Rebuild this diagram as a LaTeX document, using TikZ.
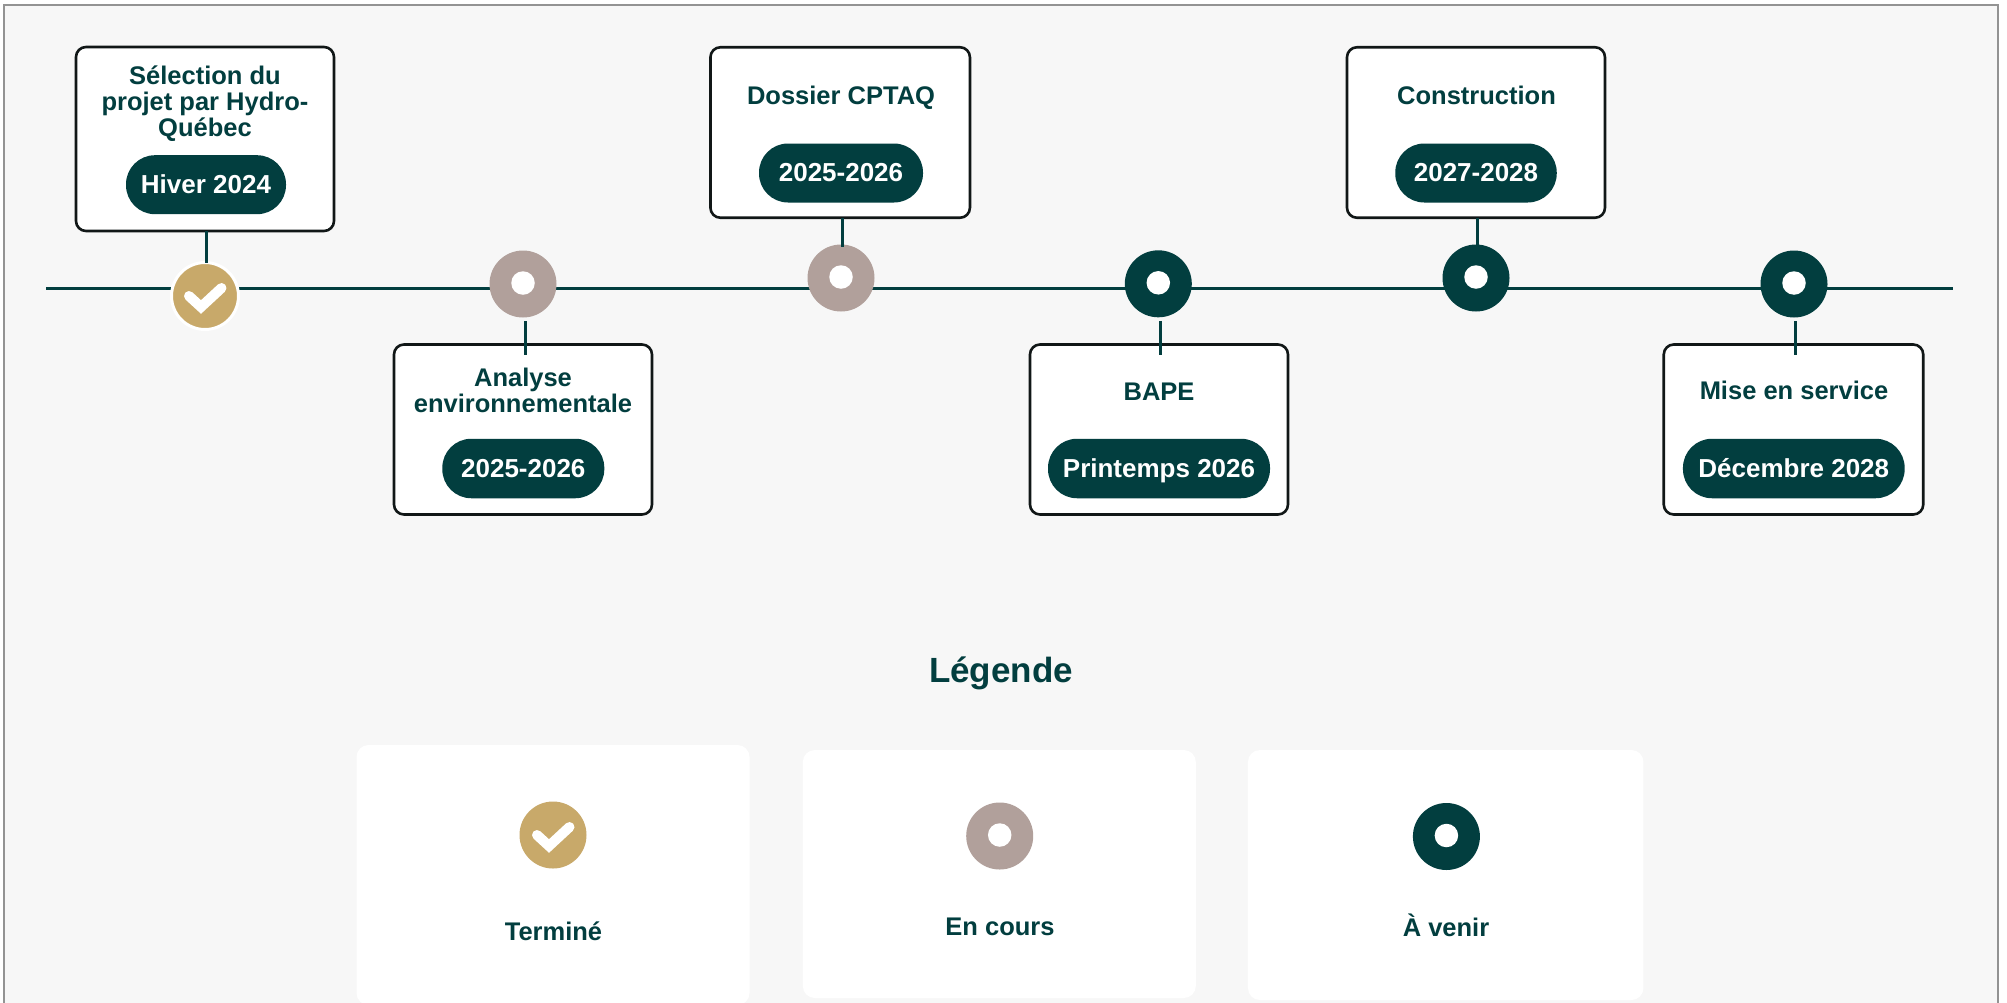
\documentclass[tikz,border=0pt]{standalone}
\usepackage{fontspec}
\setmainfont{Liberation Sans}
\definecolor{teal}{HTML}{023E3F}
\definecolor{gold}{HTML}{C8A96A}
\definecolor{taupe}{HTML}{B1A09B}
\definecolor{pagebg}{HTML}{F7F7F7}
\definecolor{edge}{HTML}{111717}
\tikzset{
  card/.style={draw=edge,line width=2.6pt,fill=white,rounded corners=10pt,inner sep=0pt,outer sep=0pt},
  pill/.style={fill=teal,rounded corners=29pt,inner sep=0pt,outer sep=0pt,text=white,text height=18.6pt,text depth=0pt,font=\fontsize{26}{28}\selectfont\bfseries},
  pillup/.style={pill,text depth=2pt},
  title/.style={text=teal,font=\fontsize{25.5}{26}\selectfont\bfseries,align=center,inner sep=0pt},
  dot/.style={circle,minimum size=67pt,inner sep=0pt,outer sep=0pt},
  hole/.style={circle,fill=white,minimum size=23.5pt,inner sep=0pt},
  conn/.style={draw=teal,line width=3pt},
  tick/.style={draw=white,line width=10pt,line join=miter,line cap=round},
  legcard/.style={fill=white,rounded corners=12pt,inner sep=0pt,outer sep=0pt},
}
\begin{document}
\begin{tikzpicture}[x=1pt,y=-1pt]
\useasboundingbox (0,0) rectangle (2007,1002);
\fill[white] (0,0) rectangle (2007,1002);
\filldraw[draw=gray!85,fill=pagebg,line width=1.2pt] (4,5) rectangle (1998,1012);
% timeline
\coordinate (ls) at (46,288.7);
\coordinate (le) at (1952.7,288.7);
\draw[conn] (ls) -- (le);
% boxes
\node[card,minimum width=258pt,minimum height=184pt] (b1) at (205,139) {};
\node[card,minimum width=258pt,minimum height=170pt] (b2) at (523,429.5) {};
\node[card,minimum width=259.5pt,minimum height=170.5pt] (b3) at (840.2,132.5) {};
\node[card,minimum width=258pt,minimum height=170pt] (b4) at (1159,429.5) {};
\node[card,minimum width=258pt,minimum height=170.5pt] (b5) at (1476,132.5) {};
\node[card,minimum width=259.5pt,minimum height=170pt] (b6) at (1793.5,429.5) {};
% pills
\node[pillup,minimum width=160pt,minimum height=59pt] (p1) at (206,184.7) {Hiver 2024};
\node[pill,minimum width=162pt,minimum height=59.5pt] (p2) at (523.3,468.5) {2025-2026};
\node[pillup,minimum width=164pt,minimum height=59pt] (p3) at (841,173) {2025-2026};
\node[pill,minimum width=222pt,minimum height=59.5pt] (p4) at (1159,468.5) {Printemps 2026};
\node[pillup,minimum width=161.5pt,minimum height=59pt] (p5) at (1476,173) {2027-2028};
\node[pill,minimum width=221.7pt,minimum height=59.5pt] (p6) at (1793.8,468.5) {Décembre 2028};
% titles
\node[title] (t1) at (205,104) {Sélection du\\projet par Hydro-\\Québec};
\node[title] (t2) at (523,390.5) {Analyse\\environnementale};
\node[title] (t3) at (841,97.5) {Dossier CPTAQ};
\node[title] (t4) at (1159,392) {BAPE};
\node[title] (t5) at (1476.5,95) {Construction};
\node[title] (t6) at (1794,390.5) {Mise en service};
% status dots
\node[dot,fill=gold,draw=white,line width=3pt] (c1) at (205,296) {};
\node[dot,fill=taupe] (c2) at (523,284) {};
\node[dot,fill=taupe] (c3) at (841,278) {};
\node[dot,fill=teal] (c4) at (1158.3,283.8) {};
\node[dot,fill=teal] (c5) at (1476,278) {};
\node[dot,fill=teal] (c6) at (1794,284) {};
\node[hole] (h2) at ([yshift=1pt]c2.center) {};
\node[hole] (h3) at ([yshift=1pt]c3.center) {};
\node[hole] (h4) at ([yshift=1pt]c4.center) {};
\node[hole] (h5) at ([yshift=1pt]c5.center) {};
\node[hole] (h6) at ([yshift=1pt]c6.center) {};
\draw[tick] ([shift={(-16pt,0pt)}]c1.center) -- ([shift={(-4pt,-11pt)}]c1.center) -- ([shift={(16.5pt,8pt)}]c1.center);
% connectors
\draw[conn] ([xshift=1pt]b1.south) -- ([xshift=1pt]c1.north);
\draw[conn] ([xshift=2pt,yshift=-3.5pt]c2.south) -- ([xshift=2pt,yshift=-10pt]b2.north);
\draw[conn] ([xshift=1.8pt]b3.south) -- ([xshift=1pt,yshift=-2pt]c3.north);
\draw[conn] ([xshift=1.7pt,yshift=-3.5pt]c4.south) -- ([xshift=1pt,yshift=-10pt]b4.north);
\draw[conn] ([xshift=1pt]b5.south) -- ([xshift=1pt,yshift=-2pt]c5.north);
\draw[conn] ([xshift=1pt,yshift=-3.5pt]c6.south) -- ([xshift=1.5pt,yshift=-10pt]b6.north);
% legend
\node[text=teal,font=\fontsize{35}{38}\selectfont\bfseries,inner sep=0pt] (lg) at (1001,673) {Légende};
\node[legcard,minimum width=393pt,minimum height=260pt] (k1) at (553,875) {};
\node[legcard,minimum width=393pt,minimum height=248pt] (k2) at (999.3,874) {};
\node[legcard,minimum width=395.5pt,minimum height=250pt] (k3) at (1445.7,875) {};
\node[dot,fill=gold] (d1) at (553,835) {};
\node[dot,fill=taupe] (d2) at (999.7,836) {};
\node[dot,fill=teal] (d3) at (1446.4,836.5) {};
\node[hole] (dh2) at ([yshift=1pt]d2.center) {};
\node[hole] (dh3) at ([yshift=1pt]d3.center) {};
\draw[tick] ([shift={(-16pt,0pt)}]d1.center) -- ([shift={(-4pt,-11pt)}]d1.center) -- ([shift={(16.5pt,8pt)}]d1.center);
\node[title] (l1) at (553.5,931) {Terminé};
\node[title] (l2) at (1000,927) {En cours};
\node[title] (l3) at (1446,925.5) {À venir};
\end{tikzpicture}
\end{document}
